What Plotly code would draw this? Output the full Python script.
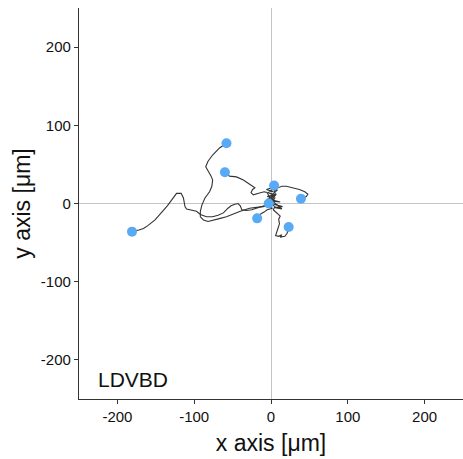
import plotly.graph_objects as go

# Cell tracks (µm), each from origin (0,0) to its end point
track1_x = [0, -3, -6, -12, -18, -25, -32, -38, -40, -43, -47, -52, -56, -62, -69, -76, -84, -92, -97, -104, -110, -112, -114, -117, -123, -129, -135, -143, -151, -160, -166, -172, -181]
track1_y = [0, -1, -2, -4, -5, -8, -9, -8, -3, 0, -1, -3, -6, -12, -15, -17, -17, -14, -10, -8, -7, -4, 7, 13, 13, 5, -3, -12, -21, -28, -32, -34, -36]
track2_x = [0, -4, -10, -19, -28, -40, -50, -58, -66, -74, -82, -88, -92, -92, -90, -86, -80, -77, -76, -78, -82, -85, -82, -76, -67, -62, -58]
track2_y = [0, -2, -4, -5, -6, -10, -14, -17, -19, -21, -23, -21, -17, -10, -2, 7, 15, 22, 30, 35, 41, 47, 54, 62, 71, 74, 77]
track3_x = [0, -2, -5, -9, -16, -23, -26, -24, -21, -27, -36, -45, -54, -60]
track3_y = [0, 8, 14, 15, 13, 11, 14, 18, 20, 24, 30, 34, 35, 40]
track4_x = [0, 3, -2, 5, -4, 2, 8, 1, -6, 3, -3, 6, 4]
track4_y = [0, 5, 8, 10, 14, 12, 17, 20, 18, 15, 16, 19, 23]
track5_x = [0, 2, 6, 4, 9, 14, 20, 28, 37, 44, 48, 46, 42, 39]
track5_y = [0, 6, 11, 16, 20, 22, 22, 20, 18, 15, 12, 9, 7, 6]
track6_x = [0, -3, 2, -5, -9, -13, -16, -18]
track6_y = [0, -4, -6, -8, -11, -13, -16, -19]
track7_x = [0, 5, 3, 8, 12, 10, 11, 9, 7, 6, 10, 14, 12, 18, 21, 22, 23]
track7_y = [0, -4, -8, -12, -16, -20, -26, -32, -37, -41, -42, -40, -43, -42, -38, -34, -30]
track8_x = [0, 8, 15, 4, 14, 2, 12, -4, 3, -6, 7, -5, 5, 1, -3]
track8_y = [0, -2, -4, -5, -7, 3, 2, 6, 10, 4, 12, 9, 7, 2, 0]

tracks_x = [track1_x, track2_x, track3_x, track4_x, track5_x, track6_x, track7_x, track8_x]
tracks_y = [track1_y, track2_y, track3_y, track4_y, track5_y, track6_y, track7_y, track8_y]

tick_vals = [-200, -100, 0, 100, 200]
tick_text = ["-200", "-100", "0", "100", "200"]
label = "LDVBD"

FONT = "Liberation Sans, Arial, Helvetica, sans-serif"

fig = go.Figure()
for tx, ty in zip(tracks_x, tracks_y):
    fig.add_trace(go.Scatter(x=tx, y=ty, mode="lines",
                             line=dict(color="#333333", width=1.1),
                             hoverinfo="skip", showlegend=False))
fig.add_trace(go.Scatter(x=[t[-1] for t in tracks_x], y=[t[-1] for t in tracks_y],
                         mode="markers", marker=dict(color="#58AAF5", size=10),
                         showlegend=False))

axis_common = dict(range=[-250, 250], tickvals=tick_vals, ticktext=tick_text, showgrid=False,
                   zeroline=True, zerolinecolor="#c4c4c4", zerolinewidth=1.2,
                   showline=True, linecolor="#333333", linewidth=1.2,
                   ticks="outside", ticklen=4, tickcolor="#333333", tickwidth=1,
                   tickfont=dict(family=FONT, size=15, color="#111111"))

fig.update_layout(
    width=463, height=459,
    margin=dict(l=79, r=0, t=8, b=60),
    plot_bgcolor="white", paper_bgcolor="white",
    xaxis=dict(**axis_common,
               title=dict(text="x axis [μm]", font=dict(family=FONT, size=23, color="#111111"), standoff=10)),
    yaxis=dict(**axis_common,
               title=dict(text="y axis [μm]", font=dict(family=FONT, size=23, color="#111111"), standoff=3)),
    annotations=[dict(x=-228, y=-225, xref="x", yref="y", text=label, showarrow=False,
                      xanchor="left", yanchor="middle",
                      font=dict(family=FONT, size=21, color="#111111"))],
)

fig.write_html("out.html")
